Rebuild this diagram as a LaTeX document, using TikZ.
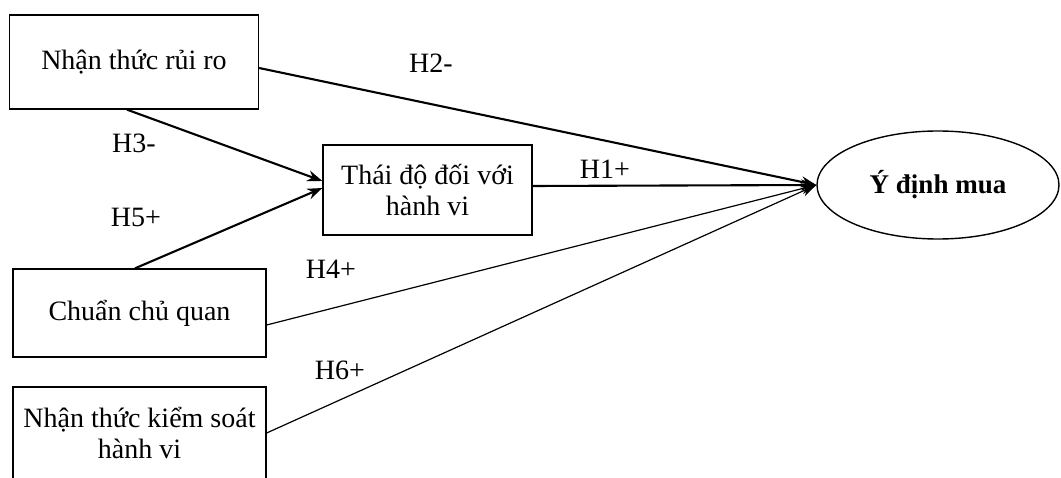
\documentclass[tikz,border=0pt]{standalone}
\usepackage{fontspec}
\setmainfont{Liberation Serif}
\usetikzlibrary{arrows.meta,shapes.geometric}
\begin{document}
\begin{tikzpicture}[x=1pt,y=-1pt,
  box/.style={draw,line width=1.3pt,inner sep=0pt,align=center,font=\fontsize{28}{31}\selectfont},
  lbl/.style={inner sep=0pt,font=\fontsize{28}{31}\selectfont},
  thickarr/.style={line width=2.1pt,-{Stealth[length=15pt,width=11pt]}},
  thinarr/.style={line width=1.2pt,-{Stealth[length=15pt,width=11pt]}}]
\useasboundingbox (0,0) rectangle (1061,478);
\clip (0,0) rectangle (1061,478);
\node[box,minimum width=249pt,minimum height=94pt] (risk) at (134,62) {Nhận thức rủi ro};
\node[box,minimum width=209pt,minimum height=90pt] (thai) at (427.5,190) {Thái độ đối với\\hành vi};
\node[box,minimum width=253pt,minimum height=88pt] (chuan) at (139.5,313) {Chuẩn chủ quan};
\node[box,minimum width=253pt,minimum height=92pt] (ntks) at (139.5,433) {Nhận thức kiểm soát\\hành vi};
\node[draw,line width=1.4pt,ellipse,inner sep=0pt,minimum width=242pt,minimum height=108pt,
  font=\bfseries\fontsize{27}{30}\selectfont] (ydm) at (938,185) {Ý định mua};
\draw[thickarr] ([yshift=-6pt]risk.east) -- (ydm.west);
\draw[thickarr] ([xshift=-7pt]risk.south) -- ([yshift=9pt]thai.west);
\draw[thickarr] ([xshift=-4.5pt]chuan.north) -- ([yshift=2pt]thai.west);
\draw[thickarr] ([yshift=4pt]thai.east) -- (ydm.west);
\draw[thinarr] ([yshift=-12pt]chuan.east) -- (ydm.west);
\draw[thinarr] (ntks.east) -- (ydm.west);
\node[lbl] (h2) at (431,63) {H2-};
\node[lbl] (h1) at (605,169) {H1+};
\node[lbl] (h3) at (134,143) {H3-};
\node[lbl] (h5) at (136,217) {H5+};
\node[lbl] (h4) at (331,269) {H4+};
\node[lbl] (h6) at (340,370) {H6+};
\end{tikzpicture}
\end{document}
